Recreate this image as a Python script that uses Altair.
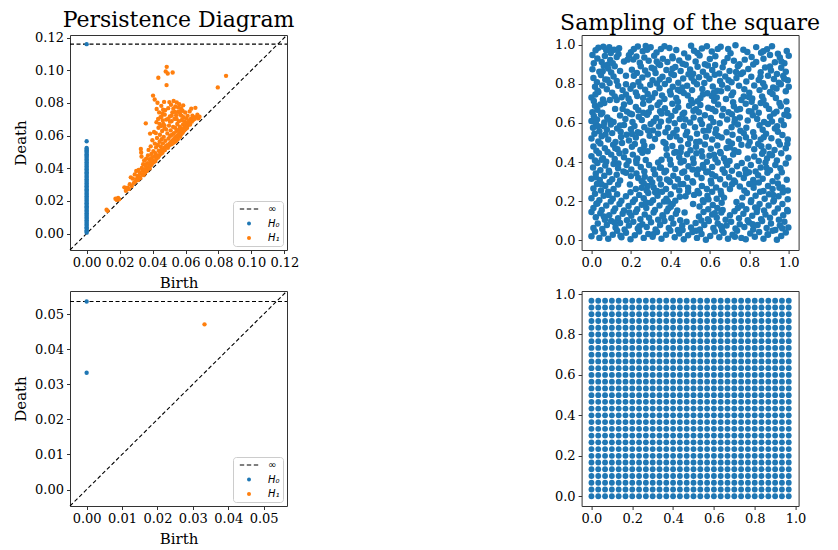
import altair as alt
import pandas as pd

FONT = "DejaVu Serif"
BLUE = "#1f77b4"
ORANGE = "#ff7f0e"

# ---------------- Persistence diagram of the random sampling ----------------
pd1_axis = [-0.0101, 0.1216]
pd1_inf = 0.116
pd1_ticks = [0.0, 0.02, 0.04, 0.06, 0.08, 0.10, 0.12]
pd1_h0_death = [0.0005, 0.0012, 0.002, 0.003, 0.0038, 0.0047, 0.0055, 0.0064, 0.0072, 0.0081,
                0.009, 0.0098, 0.0107, 0.0115, 0.0124, 0.0133, 0.0141, 0.015, 0.0159, 0.0167,
                0.0176, 0.0185, 0.0193, 0.0202, 0.0211, 0.0219, 0.0228, 0.0237, 0.0245, 0.0254,
                0.0263, 0.0271, 0.028, 0.0289, 0.0297, 0.0306, 0.0315, 0.0323, 0.0332, 0.0341,
                0.0349, 0.0358, 0.0367, 0.0375, 0.0384, 0.0393, 0.0401, 0.041, 0.0419, 0.0427,
                0.0436, 0.0445, 0.0453, 0.0462, 0.047, 0.0478, 0.0486, 0.0494, 0.0502, 0.051,
                0.0518, 0.0524, 0.0565]
pd1_h1 = [
    (0.0121, 0.0146), (0.0127, 0.0139), (0.0175, 0.0213), (0.0183, 0.0206), (0.0191, 0.0218),
    (0.0197, 0.0210), (0.0229, 0.0283), (0.0238, 0.0262), (0.0249, 0.0281), (0.0256, 0.0272),
    (0.0262, 0.0302), (0.0268, 0.0344), (0.0274, 0.0291), (0.0281, 0.0336), (0.0287, 0.0310),
    (0.0292, 0.0362), (0.0296, 0.0318), (0.0301, 0.0383), (0.0305, 0.0335), (0.0309, 0.0352),
    (0.0312, 0.0328), (0.0316, 0.0389), (0.0319, 0.0346), (0.0323, 0.0371), (0.0326, 0.0340),
    (0.0329, 0.0518), (0.0331, 0.0496), (0.0333, 0.0472), (0.0335, 0.0401), (0.0338, 0.0362),
    (0.0341, 0.0384), (0.0343, 0.0425), (0.0346, 0.0358), (0.0349, 0.0447), (0.0352, 0.0392),
    (0.0354, 0.0371), (0.0357, 0.0414), (0.0359, 0.0675), (0.0361, 0.0458), (0.0364, 0.0382),
    (0.0367, 0.0431), (0.0369, 0.0395), (0.0372, 0.0478), (0.0374, 0.0402), (0.0376, 0.0512),
    (0.0378, 0.0422), (0.0381, 0.0455), (0.0383, 0.0399), (0.0385, 0.0612), (0.0387, 0.0441),
    (0.0389, 0.0534), (0.0391, 0.0418), (0.0393, 0.0487), (0.0395, 0.0463), (0.0397, 0.0428),
    (0.0399, 0.0571), (0.0401, 0.0447), (0.0403, 0.0845), (0.0405, 0.0505), (0.0407, 0.0436),
    (0.0409, 0.0622), (0.0411, 0.0472), (0.0413, 0.0821), (0.0414, 0.0551), (0.0416, 0.0443),
    (0.0418, 0.0492), (0.0420, 0.0615), (0.0421, 0.0528), (0.0423, 0.0458), (0.0425, 0.0763),
    (0.0427, 0.0585), (0.0428, 0.0475), (0.0430, 0.0801), (0.0432, 0.0542), (0.0433, 0.0465),
    (0.0435, 0.0954), (0.0436, 0.0648), (0.0438, 0.0508), (0.0440, 0.0742), (0.0441, 0.0478),
    (0.0443, 0.0562), (0.0445, 0.0605), (0.0446, 0.0497), (0.0448, 0.0712), (0.0450, 0.0533),
    (0.0451, 0.0488), (0.0453, 0.0782), (0.0455, 0.0578), (0.0456, 0.0515), (0.0458, 0.0628),
    (0.0460, 0.0495), (0.0461, 0.0735), (0.0463, 0.0552), (0.0465, 0.0671), (0.0466, 0.0508),
    (0.0468, 0.0592), (0.0470, 0.0806), (0.0471, 0.0524), (0.0473, 0.0645), (0.0475, 0.0511),
    (0.0476, 0.0755), (0.0478, 0.0568), (0.0480, 0.0993), (0.0481, 0.0532), (0.0483, 0.0698),
    (0.0485, 0.0909), (0.0486, 0.1021), (0.0488, 0.0541), (0.0490, 0.0613), (0.0492, 0.0980),
    (0.0493, 0.0525), (0.0495, 0.0768), (0.0497, 0.0582), (0.0498, 0.0538), (0.0500, 0.0661),
    (0.0502, 0.0805), (0.0503, 0.0552), (0.0505, 0.0717), (0.0507, 0.0598), (0.0508, 0.0545),
    (0.0510, 0.0632), (0.0512, 0.0789), (0.0513, 0.0562), (0.0515, 0.0688), (0.0517, 0.0548),
    (0.0518, 0.0605), (0.0520, 0.0742), (0.0522, 0.0986), (0.0523, 0.0571), (0.0525, 0.0653),
    (0.0527, 0.0556), (0.0528, 0.0812), (0.0530, 0.0615), (0.0532, 0.0583), (0.0533, 0.0702),
    (0.0535, 0.0562), (0.0537, 0.0648), (0.0538, 0.0778), (0.0540, 0.0592), (0.0542, 0.0567),
    (0.0543, 0.0725), (0.0545, 0.0628), (0.0547, 0.0803), (0.0548, 0.0581), (0.0550, 0.0671),
    (0.0552, 0.0602), (0.0553, 0.0578), (0.0555, 0.0745), (0.0557, 0.0635), (0.0558, 0.0598),
    (0.0560, 0.0688), (0.0562, 0.0792), (0.0563, 0.0611), (0.0565, 0.0655), (0.0567, 0.0592),
    (0.0568, 0.0728), (0.0570, 0.0625), (0.0572, 0.0606), (0.0573, 0.0768), (0.0575, 0.0642),
    (0.0577, 0.0612), (0.0578, 0.0695), (0.0580, 0.0635), (0.0582, 0.0752), (0.0583, 0.0618),
    (0.0585, 0.0668), (0.0587, 0.0626), (0.0588, 0.0712), (0.0590, 0.0645), (0.0592, 0.0632),
    (0.0594, 0.0685), (0.0596, 0.0648), (0.0598, 0.0741), (0.0600, 0.0638), (0.0602, 0.0662),
    (0.0604, 0.0705), (0.0606, 0.0652), (0.0608, 0.0678), (0.0610, 0.0648), (0.0613, 0.0721),
    (0.0616, 0.0664), (0.0619, 0.0692), (0.0622, 0.0672), (0.0625, 0.0748), (0.0628, 0.0668),
    (0.0632, 0.0702), (0.0635, 0.0765), (0.0638, 0.0685), (0.0642, 0.0722), (0.0646, 0.0695),
    (0.0650, 0.0712), (0.0655, 0.0702), (0.0660, 0.0770), (0.0665, 0.0712), (0.0672, 0.0728),
    (0.0678, 0.0705), (0.0685, 0.0715), (0.0796, 0.0895), (0.0846, 0.0966),
    (0.0442, 0.0672), (0.0452, 0.0658), (0.0462, 0.0692), (0.0472, 0.0662), (0.0482, 0.0638),
    (0.0494, 0.0702), (0.0506, 0.0685), (0.0516, 0.0722), (0.0526, 0.0765), (0.0536, 0.0745),
    (0.0546, 0.0702), (0.0556, 0.0772), (0.0566, 0.0748), (0.0576, 0.0722), (0.0586, 0.0785),
    (0.0424, 0.0682), (0.0434, 0.0702), (0.0454, 0.0715), (0.0464, 0.0758), (0.0474, 0.0728),
]

# ---------------- Persistence diagram of the grid ----------------
pd2_axis = [-0.0047, 0.0566]
pd2_inf = 0.0536
pd2_ticks = [0.0, 0.01, 0.02, 0.03, 0.04, 0.05]
pd2_h0_death = [0.0333]
pd2_h1 = [(0.0333, 0.0471)]

# ---------------- Random sampling of the square ----------------
sample_points = [
    (0.005, 0.948), (0.035, 0.985), (0.06, 0.99), (0.075, 0.972), (0.09, 0.988), (0.098, 0.958),
    (0.115, 0.975), (0.14, 0.982), (0.2, 0.962), (0.215, 0.978), (0.235, 0.991), (0.26, 0.967),
    (0.275, 0.994), (0.282, 0.975), (0.3, 0.987), (0.33, 0.961), (0.352, 0.978), (0.37, 0.992),
    (0.395, 0.984), (0.43, 0.973), (0.47, 0.956), (0.505, 0.995), (0.52, 0.969), (0.56, 0.981),
    (0.585, 0.992), (0.61, 0.966), (0.64, 0.979), (0.655, 0.99), (0.705, 0.957), (0.73, 0.998),
    (0.77, 0.975), (0.79, 0.963), (0.835, 0.988), (0.86, 0.959), (0.89, 0.977), (0.915, 0.993),
    (0.945, 0.954), (0.99, 0.968),
    (0.012, 0.905), (0.03, 0.93), (0.052, 0.912), (0.068, 0.942), (0.082, 0.898), (0.095, 0.922),
    (0.108, 0.905), (0.128, 0.938), (0.165, 0.915), (0.19, 0.946), (0.212, 0.925), (0.228, 0.94),
    (0.245, 0.908), (0.268, 0.935), (0.29, 0.918), (0.318, 0.944), (0.34, 0.902), (0.362, 0.928),
    (0.385, 0.912), (0.41, 0.94), (0.445, 0.92), (0.462, 0.903), (0.49, 0.935), (0.528, 0.914),
    (0.548, 0.945), (0.575, 0.9), (0.6, 0.927), (0.628, 0.941), (0.672, 0.91), (0.69, 0.932),
    (0.722, 0.918), (0.75, 0.9), (0.812, 0.938), (0.835, 0.912), (0.872, 0.929), (0.905, 0.948),
    (0.93, 0.91), (0.955, 0.935), (0.978, 0.905), (1.0, 0.944),
    (0.005, 0.875), (0.04, 0.862), (0.062, 0.893), (0.085, 0.878), (0.1, 0.858), (0.118, 0.89),
    (0.205, 0.872), (0.23, 0.855), (0.25, 0.89), (0.272, 0.868), (0.305, 0.882), (0.325, 0.856),
    (0.348, 0.897), (0.38, 0.871), (0.405, 0.852), (0.425, 0.886), (0.452, 0.866), (0.478, 0.898),
    (0.5, 0.874), (0.515, 0.852), (0.538, 0.888), (0.565, 0.862), (0.59, 0.894), (0.612, 0.871),
    (0.648, 0.853), (0.665, 0.885), (0.7, 0.866), (0.742, 0.89), (0.768, 0.858), (0.795, 0.876),
    (0.82, 0.899), (0.858, 0.86), (0.88, 0.884), (0.91, 0.868), (0.94, 0.851), (0.962, 0.882),
    (0.985, 0.862),
    (0.01, 0.83), (0.028, 0.808), (0.048, 0.845), (0.07, 0.822), (0.092, 0.804), (0.112, 0.838),
    (0.128, 0.815), (0.215, 0.842), (0.238, 0.81), (0.258, 0.832), (0.285, 0.848), (0.31, 0.818),
    (0.332, 0.802), (0.36, 0.836), (0.392, 0.82), (0.418, 0.845), (0.44, 0.806), (0.465, 0.828),
    (0.492, 0.849), (0.52, 0.812), (0.545, 0.834), (0.572, 0.805), (0.598, 0.826), (0.625, 0.847),
    (0.652, 0.815), (0.678, 0.838), (0.71, 0.808), (0.735, 0.83), (0.758, 0.85), (0.785, 0.812),
    (0.81, 0.836), (0.848, 0.82), (0.87, 0.803), (0.895, 0.842), (0.925, 0.825), (0.95, 0.806),
    (0.972, 0.84), (0.995, 0.818),
    (0.018, 0.785), (0.035, 0.758), (0.055, 0.792), (0.078, 0.772), (0.105, 0.755), (0.135, 0.79),
    (0.158, 0.768), (0.175, 0.798), (0.198, 0.775), (0.225, 0.756), (0.248, 0.788), (0.272, 0.77),
    (0.298, 0.795), (0.322, 0.752), (0.345, 0.778), (0.372, 0.799), (0.398, 0.762), (0.412, 0.785),
    (0.438, 0.77), (0.468, 0.753), (0.485, 0.79), (0.51, 0.768), (0.535, 0.798), (0.562, 0.774),
    (0.588, 0.752), (0.615, 0.786), (0.638, 0.765), (0.662, 0.795), (0.69, 0.778), (0.718, 0.756),
    (0.748, 0.79), (0.775, 0.772), (0.8, 0.755), (0.825, 0.792), (0.852, 0.768), (0.878, 0.785),
    (0.905, 0.758), (0.938, 0.776), (0.96, 0.798), (0.985, 0.762), (1.0, 0.785),
    (0.0, 0.73), (0.012, 0.712), (0.02, 0.745), (0.058, 0.72), (0.065, 0.702), (0.118, 0.736),
    (0.128, 0.718), (0.175, 0.745), (0.188, 0.725), (0.195, 0.708), (0.232, 0.738), (0.285, 0.748),
    (0.292, 0.716), (0.308, 0.73), (0.345, 0.705), (0.358, 0.74), (0.37, 0.722), (0.402, 0.746),
    (0.43, 0.728), (0.438, 0.708), (0.488, 0.74), (0.505, 0.718), (0.512, 0.702), (0.552, 0.726),
    (0.565, 0.745), (0.61, 0.738), (0.622, 0.714), (0.635, 0.73), (0.682, 0.722), (0.71, 0.742),
    (0.718, 0.706), (0.76, 0.718), (0.772, 0.735), (0.815, 0.725), (0.858, 0.702), (0.865, 0.736),
    (0.872, 0.718), (0.918, 0.748), (0.935, 0.728), (0.988, 0.71),
    (0.005, 0.655), (0.018, 0.688), (0.03, 0.668), (0.045, 0.695), (0.055, 0.652), (0.158, 0.672),
    (0.165, 0.695), (0.18, 0.658), (0.225, 0.682), (0.238, 0.665), (0.262, 0.698), (0.29, 0.655),
    (0.302, 0.678), (0.335, 0.692), (0.348, 0.66), (0.372, 0.675), (0.41, 0.698), (0.425, 0.662),
    (0.44, 0.68), (0.47, 0.652), (0.495, 0.688), (0.53, 0.67), (0.545, 0.655), (0.552, 0.692),
    (0.592, 0.678), (0.628, 0.66), (0.642, 0.695), (0.668, 0.672), (0.695, 0.655), (0.722, 0.685),
    (0.738, 0.668), (0.782, 0.698), (0.798, 0.66), (0.83, 0.68), (0.848, 0.652), (0.885, 0.69),
    (0.9, 0.672), (0.938, 0.658), (0.96, 0.685), (0.992, 0.665),
    (0.0, 0.61), (0.012, 0.635), (0.028, 0.618), (0.048, 0.645), (0.065, 0.602), (0.08, 0.628),
    (0.095, 0.612), (0.112, 0.605), (0.145, 0.638), (0.172, 0.62), (0.195, 0.648), (0.208, 0.605),
    (0.24, 0.632), (0.255, 0.615), (0.282, 0.642), (0.315, 0.608), (0.328, 0.625), (0.355, 0.648),
    (0.392, 0.612), (0.405, 0.635), (0.448, 0.62), (0.462, 0.645), (0.5, 0.602), (0.518, 0.628),
    (0.552, 0.615), (0.575, 0.64), (0.605, 0.625), (0.618, 0.605), (0.662, 0.638), (0.688, 0.618),
    (0.712, 0.645), (0.725, 0.602), (0.752, 0.628), (0.792, 0.612), (0.818, 0.64), (0.84, 0.62),
    (0.875, 0.605), (0.905, 0.632), (0.925, 0.648), (0.962, 0.612), (0.998, 0.635),
    (0.008, 0.575), (0.022, 0.598), (0.04, 0.558), (0.062, 0.585), (0.078, 0.565), (0.098, 0.592),
    (0.13, 0.572), (0.148, 0.555), (0.165, 0.59), (0.2, 0.568), (0.218, 0.585), (0.235, 0.552),
    (0.268, 0.578), (0.3, 0.595), (0.312, 0.562), (0.342, 0.582), (0.375, 0.552), (0.388, 0.575),
    (0.422, 0.598), (0.432, 0.565), (0.468, 0.585), (0.485, 0.555), (0.525, 0.578), (0.56, 0.595),
    (0.568, 0.56), (0.598, 0.582), (0.632, 0.568), (0.65, 0.598), (0.685, 0.552), (0.71, 0.578),
    (0.742, 0.592), (0.755, 0.56), (0.785, 0.575), (0.82, 0.552), (0.852, 0.588), (0.868, 0.565),
    (0.895, 0.595), (0.93, 0.572), (0.945, 0.555), (0.975, 0.59),
    (0.0, 0.52), (0.015, 0.545), (0.035, 0.505), (0.052, 0.532), (0.085, 0.515), (0.105, 0.548),
    (0.122, 0.502), (0.15, 0.528), (0.178, 0.54), (0.19, 0.51), (0.225, 0.525), (0.248, 0.548),
    (0.262, 0.505), (0.295, 0.535), (0.322, 0.518), (0.338, 0.545), (0.365, 0.502), (0.398, 0.528),
    (0.415, 0.548), (0.45, 0.512), (0.478, 0.538), (0.5, 0.52), (0.535, 0.545), (0.548, 0.505),
    (0.58, 0.53), (0.612, 0.515), (0.628, 0.548), (0.66, 0.525), (0.695, 0.505), (0.715, 0.54),
    (0.748, 0.518), (0.772, 0.548), (0.802, 0.502), (0.825, 0.53), (0.858, 0.515), (0.885, 0.545),
    (0.912, 0.522), (0.948, 0.505), (0.968, 0.538), (0.995, 0.515),
    (0.01, 0.48), (0.025, 0.458), (0.045, 0.495), (0.068, 0.47), (0.082, 0.452), (0.11, 0.488),
    (0.132, 0.465), (0.155, 0.498), (0.172, 0.455), (0.205, 0.478), (0.22, 0.492), (0.248, 0.462),
    (0.268, 0.485), (0.285, 0.455), (0.375, 0.495), (0.38, 0.468), (0.41, 0.482), (0.428, 0.452),
    (0.455, 0.475), (0.49, 0.492), (0.502, 0.46), (0.53, 0.478), (0.558, 0.455), (0.575, 0.49),
    (0.605, 0.468), (0.638, 0.485), (0.652, 0.452), (0.685, 0.472), (0.712, 0.495), (0.725, 0.46),
    (0.76, 0.488), (0.795, 0.485), (0.825, 0.465), (0.845, 0.492), (0.872, 0.455), (0.898, 0.478),
    (0.928, 0.462), (0.955, 0.49), (0.985, 0.47),
    (0.0, 0.43), (0.018, 0.408), (0.038, 0.445), (0.058, 0.42), (0.075, 0.402), (0.1, 0.438),
    (0.118, 0.415), (0.142, 0.445), (0.165, 0.425), (0.188, 0.405), (0.21, 0.438), (0.232, 0.418),
    (0.258, 0.448), (0.275, 0.41), (0.382, 0.435), (0.398, 0.412), (0.42, 0.448), (0.445, 0.425),
    (0.468, 0.405), (0.485, 0.44), (0.515, 0.418), (0.532, 0.445), (0.562, 0.428), (0.585, 0.402),
    (0.598, 0.432), (0.628, 0.415), (0.655, 0.445), (0.672, 0.42), (0.7, 0.405), (0.718, 0.438),
    (0.825, 0.428), (0.848, 0.405), (0.865, 0.442), (0.89, 0.418), (0.915, 0.435), (0.94, 0.408),
    (0.962, 0.445), (0.998, 0.422),
    (0.008, 0.372), (0.03, 0.395), (0.045, 0.358), (0.07, 0.382), (0.088, 0.355), (0.112, 0.39),
    (0.135, 0.368), (0.162, 0.352), (0.178, 0.385), (0.202, 0.362), (0.228, 0.395), (0.25, 0.375),
    (0.268, 0.352), (0.292, 0.385), (0.315, 0.362), (0.338, 0.398), (0.352, 0.372), (0.378, 0.355),
    (0.402, 0.388), (0.425, 0.365), (0.452, 0.398), (0.47, 0.352), (0.492, 0.378), (0.518, 0.395),
    (0.54, 0.362), (0.565, 0.385), (0.59, 0.352), (0.612, 0.375), (0.64, 0.398), (0.665, 0.362),
    (0.688, 0.385), (0.712, 0.355), (0.738, 0.378), (0.762, 0.395), (0.78, 0.362), (0.808, 0.385),
    (0.832, 0.352), (0.858, 0.372), (0.882, 0.398), (0.905, 0.358), (0.932, 0.385), (0.958, 0.368),
    (0.985, 0.392),
    (0.0, 0.315), (0.022, 0.342), (0.042, 0.308), (0.065, 0.33), (0.09, 0.348), (0.105, 0.312),
    (0.128, 0.335), (0.145, 0.305), (0.175, 0.345), (0.2, 0.328), (0.228, 0.342), (0.255, 0.302),
    (0.27, 0.325), (0.285, 0.278), (0.298, 0.312), (0.308, 0.295), (0.322, 0.338), (0.345, 0.315),
    (0.37, 0.348), (0.392, 0.305), (0.415, 0.33), (0.438, 0.312), (0.46, 0.345), (0.485, 0.32),
    (0.512, 0.302), (0.535, 0.338), (0.558, 0.318), (0.582, 0.348), (0.605, 0.305), (0.628, 0.328),
    (0.652, 0.312), (0.675, 0.345), (0.698, 0.322), (0.722, 0.305), (0.748, 0.338), (0.772, 0.318),
    (0.798, 0.348), (0.82, 0.308), (0.845, 0.332), (0.868, 0.315), (0.892, 0.345), (0.918, 0.302),
    (0.942, 0.325), (0.965, 0.348), (0.99, 0.31),
    (0.01, 0.265), (0.028, 0.288), (0.048, 0.255), (0.07, 0.278), (0.092, 0.298), (0.112, 0.262),
    (0.135, 0.285), (0.255, 0.268), (0.265, 0.292), (0.28, 0.255), (0.315, 0.27), (0.332, 0.252),
    (0.352, 0.285), (0.378, 0.262), (0.398, 0.298), (0.422, 0.275), (0.445, 0.255), (0.465, 0.288),
    (0.49, 0.268), (0.515, 0.295), (0.538, 0.252), (0.56, 0.278), (0.585, 0.262), (0.608, 0.292),
    (0.632, 0.27), (0.655, 0.252), (0.678, 0.285), (0.702, 0.262), (0.728, 0.298), (0.752, 0.275),
    (0.775, 0.255), (0.8, 0.288), (0.822, 0.268), (0.848, 0.295), (0.872, 0.252), (0.895, 0.278),
    (0.918, 0.262), (0.945, 0.29), (0.968, 0.27), (0.995, 0.255),
    (0.0, 0.215), (0.018, 0.238), (0.04, 0.205), (0.062, 0.228), (0.085, 0.248), (0.108, 0.212),
    (0.13, 0.235), (0.152, 0.202), (0.175, 0.225), (0.198, 0.245), (0.22, 0.208), (0.242, 0.232),
    (0.265, 0.215), (0.288, 0.242), (0.312, 0.205), (0.335, 0.228), (0.358, 0.248), (0.38, 0.212),
    (0.402, 0.235), (0.425, 0.202), (0.448, 0.222), (0.545, 0.24), (0.565, 0.205), (0.588, 0.228),
    (0.612, 0.248), (0.635, 0.212), (0.658, 0.235), (0.765, 0.218), (0.788, 0.242), (0.81, 0.205),
    (0.832, 0.228), (0.855, 0.248), (0.878, 0.212), (0.9, 0.235), (0.925, 0.205), (0.948, 0.225),
    (0.97, 0.245), (0.995, 0.21), (0.49, 0.248), (0.52, 0.232),
    (0.01, 0.165), (0.03, 0.188), (0.052, 0.155), (0.075, 0.178), (0.098, 0.198), (0.12, 0.162),
    (0.142, 0.185), (0.165, 0.152), (0.188, 0.175), (0.21, 0.195), (0.232, 0.158), (0.255, 0.182),
    (0.278, 0.165), (0.3, 0.192), (0.322, 0.155), (0.345, 0.178), (0.368, 0.198), (0.39, 0.162),
    (0.412, 0.185), (0.435, 0.152), (0.548, 0.172), (0.568, 0.195), (0.592, 0.158), (0.615, 0.18),
    (0.638, 0.165), (0.66, 0.192), (0.665, 0.155), (0.762, 0.178), (0.785, 0.158), (0.808, 0.195),
    (0.83, 0.168), (0.852, 0.185), (0.875, 0.152), (0.898, 0.178), (0.922, 0.198), (0.945, 0.162),
    (0.968, 0.185), (0.992, 0.155),
    (0.0, 0.145), (0.022, 0.118), (0.045, 0.138), (0.068, 0.105), (0.09, 0.128), (0.112, 0.148),
    (0.135, 0.112), (0.158, 0.135), (0.18, 0.102), (0.202, 0.125), (0.225, 0.145), (0.248, 0.108),
    (0.27, 0.132), (0.292, 0.115), (0.315, 0.142), (0.338, 0.105), (0.36, 0.128), (0.382, 0.148),
    (0.405, 0.112), (0.428, 0.135), (0.45, 0.102), (0.545, 0.122), (0.568, 0.145), (0.59, 0.108),
    (0.612, 0.132), (0.635, 0.115), (0.658, 0.142), (0.68, 0.105), (0.702, 0.128), (0.725, 0.148),
    (0.748, 0.112), (0.77, 0.135), (0.792, 0.102), (0.815, 0.125), (0.838, 0.145), (0.86, 0.108),
    (0.882, 0.132), (0.905, 0.115), (0.928, 0.142), (0.95, 0.105), (0.972, 0.128), (0.995, 0.148),
    (0.01, 0.062), (0.032, 0.085), (0.055, 0.058), (0.078, 0.078), (0.1, 0.098), (0.122, 0.065),
    (0.145, 0.088), (0.168, 0.055), (0.19, 0.075), (0.212, 0.095), (0.235, 0.06), (0.258, 0.082),
    (0.28, 0.068), (0.302, 0.092), (0.325, 0.055), (0.348, 0.078), (0.37, 0.098), (0.392, 0.062),
    (0.415, 0.085), (0.438, 0.052), (0.46, 0.075), (0.482, 0.095), (0.505, 0.065), (0.528, 0.088),
    (0.55, 0.055), (0.572, 0.078), (0.595, 0.098), (0.618, 0.062), (0.64, 0.085), (0.662, 0.052),
    (0.685, 0.075), (0.708, 0.095), (0.73, 0.06), (0.752, 0.082), (0.775, 0.068), (0.798, 0.092),
    (0.82, 0.055), (0.842, 0.078), (0.865, 0.098), (0.888, 0.062), (0.91, 0.085), (0.932, 0.052),
    (0.955, 0.075), (0.978, 0.095), (0.998, 0.065),
    (0.0, 0.02), (0.018, 0.045), (0.04, 0.012), (0.062, 0.035), (0.085, 0.008), (0.108, 0.028),
    (0.13, 0.048), (0.152, 0.015), (0.175, 0.038), (0.198, 0.005), (0.22, 0.025), (0.242, 0.045),
    (0.265, 0.012), (0.288, 0.032), (0.31, 0.018), (0.332, 0.042), (0.355, 0.008), (0.378, 0.028),
    (0.4, 0.048), (0.422, 0.015), (0.445, 0.035), (0.468, 0.005), (0.49, 0.025), (0.512, 0.042),
    (0.535, 0.012), (0.558, 0.032), (0.58, 0.002), (0.602, 0.022), (0.625, 0.045), (0.648, 0.015),
    (0.67, 0.038), (0.692, 0.008), (0.715, 0.028), (0.738, 0.048), (0.76, 0.012), (0.782, 0.005),
    (0.805, 0.035), (0.828, 0.018), (0.85, 0.042), (0.872, 0.008), (0.895, 0.028), (0.918, 0.048),
    (0.94, 0.002), (0.962, 0.022), (0.985, 0.04),
    # further points
    (0.137, 0.953), (0.412, 0.931), (0.693, 0.978), (0.871, 0.967), (0.057, 0.864), (0.318, 0.876),
    (0.583, 0.843), (0.733, 0.861), (0.977, 0.826), (0.153, 0.731), (0.449, 0.763), (0.621, 0.756),
    (0.812, 0.709), (0.263, 0.652), (0.517, 0.662), (0.753, 0.671), (0.915, 0.607), (0.034, 0.583),
    (0.287, 0.561), (0.641, 0.533), (0.873, 0.527), (0.121, 0.471), (0.452, 0.452), (0.621, 0.438),
    (0.903, 0.441), (0.227, 0.409), (0.567, 0.371), (0.783, 0.341), (0.051, 0.287), (0.383, 0.311),
    (0.713, 0.287), (0.921, 0.231), (0.277, 0.193), (0.402, 0.171), (0.593, 0.209), (0.841, 0.163),
    (0.117, 0.091), (0.363, 0.121), (0.657, 0.071), (0.893, 0.031),
    (0.021, 0.972), (0.183, 0.924), (0.331, 0.915), (0.537, 0.958), (0.777, 0.924), (0.963, 0.914),
    (0.145, 0.866), (0.411, 0.878), (0.627, 0.897), (0.905, 0.889), (0.081, 0.821), (0.346, 0.822),
    (0.507, 0.831), (0.695, 0.818), (0.857, 0.838), (0.031, 0.765), (0.211, 0.793), (0.461, 0.782),
    (0.657, 0.762), (0.921, 0.781), (0.093, 0.718), (0.262, 0.728), (0.538, 0.711), (0.798, 0.733),
    (0.953, 0.702), (0.205, 0.645), (0.385, 0.651), (0.612, 0.671), (0.811, 0.659), (0.978, 0.642),
    (0.145, 0.587), (0.352, 0.606), (0.476, 0.618), (0.727, 0.619), (0.941, 0.583), (0.071, 0.541),
    (0.206, 0.543), (0.431, 0.531), (0.592, 0.562), (0.783, 0.527), (0.263, 0.465), (0.531, 0.503),
    (0.701, 0.476), (0.861, 0.481), (0.993, 0.493), (0.052, 0.412), (0.307, 0.478), (0.355, 0.412),
    (0.745, 0.452), (0.792, 0.418), (0.472, 0.142), (0.515, 0.185), (0.735, 0.195), (0.195, 0.285),
    (0.225, 0.262), (0.175, 0.842), (0.12, 0.672),
    (0.137, 0.393), (0.347, 0.371), (0.512, 0.362), (0.681, 0.402), (0.887, 0.371), (0.022, 0.322),
    (0.237, 0.318), (0.451, 0.287), (0.611, 0.338), (0.822, 0.288), (0.087, 0.232), (0.323, 0.245),
    (0.477, 0.225), (0.672, 0.218), (0.953, 0.268), (0.025, 0.187), (0.192, 0.142), (0.387, 0.198),
    (0.625, 0.138), (0.742, 0.165), (0.063, 0.122), (0.243, 0.072), (0.462, 0.052), (0.557, 0.101),
    (0.817, 0.082), (0.147, 0.023), (0.313, 0.031), (0.531, 0.048), (0.727, 0.018), (0.967, 0.061),
]

# ---------------- Regular grid of the square ----------------
grid_values = [0.0, 0.0333, 0.0667, 0.1, 0.1333, 0.1667, 0.2, 0.2333, 0.2667, 0.3,
               0.3333, 0.3667, 0.4, 0.4333, 0.4667, 0.5, 0.5333, 0.5667, 0.6, 0.6333,
               0.6667, 0.7, 0.7333, 0.7667, 0.8, 0.8333, 0.8667, 0.9, 0.9333, 0.9667]
square_ticks = [0.0, 0.2, 0.4, 0.6, 0.8, 1.0]

legend_labels = ["∞", "H₀", "H₁"]
legend_colors = ["black", BLUE, ORANGE]
DASH_PATH = "M-4.6,-0.3H-2.4V0.3H-4.6Z M-1.1,-0.3H1.1V0.3H-1.1Z M2.4,-0.3H4.6V0.3H2.4Z"

PLOT_W = 217
PLOT_H = 215


def axis(ticks, fmt, title=None):
    return alt.Axis(values=ticks, format=fmt, grid=False, domain=False, labelOverlap=False,
                    labelFlush=False, title=title, labelFont=FONT, labelFontSize=13,
                    labelColor="black", titleFont=FONT, titleFontSize=15,
                    titleFontWeight="normal", titleColor="black", tickColor="#333333",
                    tickSize=3.5, labelPadding=3, titlePadding=6)


def make_title(text):
    return alt.TitleParams(text, font=FONT, fontSize=22, fontWeight="normal", anchor="middle",
                           frame="group", offset=0, color="black")


def persistence(h0_deaths, h1, inf, ax_range, ticks, title=None):
    pts = pd.DataFrame(
        [{"x": 0.0, "y": d, "series": "H₀"} for d in h0_deaths]
        + [{"x": 0.0, "y": inf, "series": "H₀"}]
        + [{"x": b, "y": d, "series": "H₁"} for b, d in h1]
    )
    diag = pd.DataFrame({"x": ax_range, "y": ax_range})
    infl = pd.DataFrame({"x": ax_range, "y": [inf, inf]})
    xs = alt.Scale(domain=ax_range, nice=False, zero=False)
    ys = alt.Scale(domain=ax_range, nice=False, zero=False)
    xenc = alt.X("x:Q", scale=xs, axis=axis(ticks, ".2f", "Birth"))
    yenc = alt.Y("y:Q", scale=ys, axis=axis(ticks, ".2f", "Death"))
    leg = alt.Legend(title=None, orient="bottom-right", offset=4, fillColor="white",
                     strokeColor="#cccccc", cornerRadius=3, padding=3,
                     labelFont="DejaVu Sans", labelFontSize=10, labelFontStyle="italic",
                     labelColor="black", symbolSize=16, symbolOffset=8, labelOffset=14,
                     rowPadding=4.5, symbolStrokeWidth=0)
    dline = alt.Chart(diag).mark_line(color="black", strokeDash=[4, 2.5], strokeWidth=1.1).encode(
        x=xenc, y=yenc)
    iline = alt.Chart(infl).mark_line(color="black", strokeDash=[4, 2.5], strokeWidth=1.1).encode(
        x=xenc, y=yenc)
    dots = alt.Chart(pts).mark_point(filled=True, size=19, opacity=1).encode(
        x=xenc, y=yenc,
        color=alt.Color("series:N", scale=alt.Scale(domain=legend_labels, range=legend_colors),
                        legend=leg),
        shape=alt.Shape("series:N", scale=alt.Scale(domain=legend_labels,
                                                    range=[DASH_PATH, "circle", "circle"]),
                        legend=leg),
    )
    ch = alt.layer(dline, iline, dots).properties(width=PLOT_W, height=PLOT_H)
    if title:
        ch = ch.properties(title=make_title(title))
    return ch


def square(df, size, domain, title=None):
    s = alt.Scale(domain=domain, nice=False, zero=False)
    ch = alt.Chart(df).mark_circle(size=size, color=BLUE, opacity=1).encode(
        x=alt.X("x:Q", scale=s, axis=axis(square_ticks, ".1f")),
        y=alt.Y("y:Q", scale=s, axis=axis(square_ticks, ".1f")),
    ).properties(width=PLOT_W, height=PLOT_H)
    if title:
        ch = ch.properties(title=make_title(title))
    return ch


sample_df = pd.DataFrame(sample_points, columns=["x", "y"])
grid_df = pd.DataFrame([{"x": gx, "y": gy} for gy in grid_values for gx in grid_values])

tl = persistence(pd1_h0_death, pd1_h1, pd1_inf, pd1_axis, pd1_ticks, "Persistence Diagram")
tr = square(sample_df, 42, [-0.05, 1.05], "Sampling of the square")
bl = persistence(pd2_h0_death, pd2_h1, pd2_inf, pd2_axis, pd2_ticks)
br = square(grid_df, 34, [-0.0483, 1.015])

chart = alt.concat(
    tl, tr, bl, br, columns=2,
    spacing=alt.RowColnumber(row=41, column=294.6), bounds="flush",
).resolve_scale(
    color="independent", shape="independent"
).resolve_legend(
    color="independent", shape="independent"
).properties(
    padding={"left": 5, "top": 0, "right": 5, "bottom": 2}
).configure_view(
    stroke="#333333", strokeWidth=1
)

chart.save("out.html", embed_options={"renderer": "svg", "actions": False})
